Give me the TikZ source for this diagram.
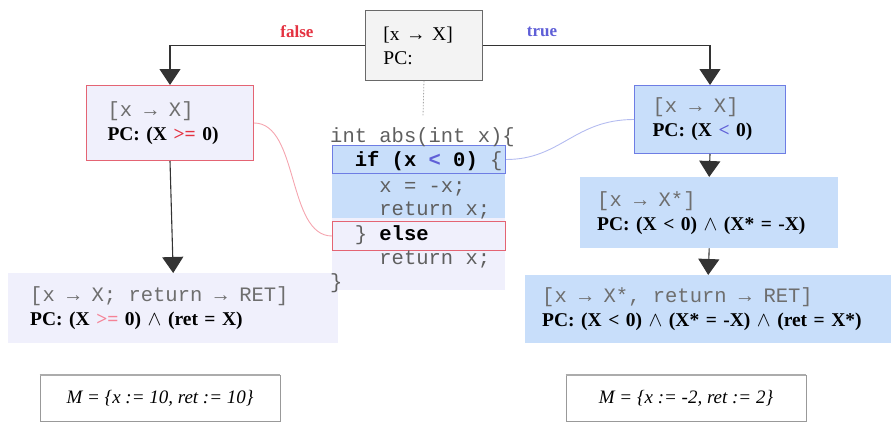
\documentclass[tikz,border=0pt]{standalone}
\usepackage{fontspec}
\setmainfont{Liberation Serif}
\setmonofont{Liberation Mono}
\usetikzlibrary{arrows.meta}

\definecolor{lav}{RGB}{240,240,252}
\definecolor{ltblue}{RGB}{200,222,250}
\definecolor{redline}{RGB}{228,100,115}
\definecolor{blueline}{RGB}{110,125,228}
\definecolor{falsered}{RGB}{228,50,65}
\definecolor{pinkop}{RGB}{245,130,150}
\definecolor{trueblue}{RGB}{95,95,215}
\definecolor{codegray}{RGB}{95,95,95}
\definecolor{mapgray}{RGB}{110,110,110}
\definecolor{topfill}{RGB}{243,243,243}
\definecolor{topdraw}{RGB}{105,105,105}
\definecolor{pinkcurve}{RGB}{245,165,175}
\definecolor{bluecurve}{RGB}{180,188,240}

\tikzset{
  state/.style={anchor=north west, inner ysep=0pt, align=left,
    font=\fontsize{19.5}{24}\selectfont},
  conn/.style={draw=black!80, line width=1.1pt,
    -{Triangle[width=21pt,length=16pt]}},
  codeline/.style={anchor=base west, inner sep=0pt,
    font=\ttfamily\fontsize{20.5}{24}\selectfont, text=codegray},
  mbox/.style={draw=gray!80, line width=0.9pt, fill=white,
    minimum width=240pt, minimum height=46pt, inner sep=0pt,
    font=\itshape\fontsize{19}{22}\selectfont},
  branch/.style={font=\bfseries\fontsize{17}{20}\selectfont},
}
% one fixed-width cell of the monospaced grid
\newcommand{\ms}{\hspace*{0.6em}}
\newcommand{\tto}{\makebox[0.6em][c]{→}}
\newcommand{\mapsline}[1]{\textcolor{mapgray}{\ttfamily\fontsize{20.5}{24}\selectfont #1}}

\begin{document}
\begin{tikzpicture}[x=1pt,y=-1pt]
  \useasboundingbox (0,0) rectangle (891,423);

  % initial state
  \node[state, draw=topdraw, fill=topfill, line width=0.9pt,
        inner xsep=18pt, text width=81pt, minimum height=70pt]
        (top) at (365,10) {[x → X]\\PC:};

  % false branch
  \node[state, draw=redline, fill=lav, line width=1pt,
        inner xsep=21pt, text width=125pt, minimum height=75pt]
        (lb1) at (86,85)
        {\mapsline{[x\ms\tto\ms X]}\\\textbf{PC: (X \textcolor{falsered}{>=} 0)}};
  \node[state, fill=lav, inner xsep=22pt, text width=286pt,
        minimum height=70pt] (lb2) at (8,273)
        {\mapsline{[x\ms\tto\ms X;\ms return\ms\tto\ms RET]}\\
         \textbf{PC: (X \textcolor{pinkop}{>=} 0) $\wedge$ (ret = X)}};

  % true branch
  \node[state, draw=blueline, fill=ltblue, line width=1pt,
        inner xsep=18pt, text width=115pt, minimum height=68pt]
        (rb1) at (634,85)
        {\mapsline{[x\ms\tto\ms X]}\\\textbf{PC: (X \textcolor{trueblue}{<} 0)}};
  \node[state, fill=ltblue, inner xsep=17pt, text width=224pt,
        minimum height=71pt] (rb2) at (580,177)
        {\mapsline{[x\ms\tto\ms X*]}\\\textbf{PC: (X < 0) $\wedge$ (X* = -X)}};
  \node[state, fill=ltblue, inner xsep=17pt, text width=332pt,
        minimum height=68pt] (rb3) at (525,275)
        {\mapsline{[x\ms\tto\ms X*,\ms return\ms\tto\ms RET]}\\
         \textbf{PC: (X < 0) $\wedge$ (X* = -X) $\wedge$ (ret = X*)}};

  % source code with highlighted regions
  \node[anchor=north west, fill=lav, minimum width=173pt,
        minimum height=145pt, inner sep=0pt] (codebg) at (332,145) {};
  \node[anchor=north west, fill=ltblue, minimum width=173pt,
        minimum height=73pt, inner sep=0pt] (thenbg) at (332,145) {};
  \node[anchor=north west, draw=blueline, line width=1pt,
        minimum width=173pt, minimum height=28pt, inner sep=0pt]
        (ifbox) at (332,145) {};
  \node[anchor=north west, draw=redline, line width=1pt, fill=lav,
        minimum width=173pt, minimum height=29pt, inner sep=0pt]
        (elsebox) at (332,221) {};

  \node[codeline] (c1) at (330,142) {int abs(int x)\{};
  \node[codeline] (c2) at (354.6,166)
        {\textcolor{black}{\textbf{if}} \textcolor{black}{\textbf{(x
         \textcolor{trueblue}{<} 0)}} \{};
  \node[codeline] (c3) at (379.2,192) {x = -x;};
  \node[codeline] (c4) at (379.2,215) {return x;};
  \node[codeline] (c5) at (354.6,240) {\} \textcolor{black}{\textbf{else}}};
  \node[codeline] (c6) at (379.2,264) {return x;};
  \node[codeline] (c7) at (330,288) {\}};

  % links from states to the code
  \coordinate (dotend) at (423,116);
  \draw[gray!70, line width=0.8pt, dash pattern=on 1.5pt off 1.5pt]
        (top.south) -- (dotend);
  \draw[pinkcurve, line width=0.9pt]
        (lb1.east) .. controls +(45,0) and +(-45,0) .. (elsebox.west);
  \draw[bluecurve, line width=0.9pt]
        (rb1.west) .. controls +(-60,0) and +(55,0) .. (ifbox.east);

  % branch connectors
  \draw[conn] (top.west) -| (lb1.north);
  \draw[conn] (top.east) -| (rb1.north);
  \draw[conn] (lb1.south) -- (lb2.north);
  \draw[conn] (rb1.south) -- (rb2.north);
  \draw[conn] (rb2.south) -- (rb3.north);

  \node[branch, text=falsered] (lfalse) at (297,32) {false};
  \node[branch, text=trueblue] (ltrue) at (542,32) {true};

  % concrete models
  \node[mbox] (m1) at (160,398.5) {M = \{x := 10, ret := 10\}};
  \node[mbox] (m2) at (686,398.5) {M = \{x := -2, ret := 2\}};
  \draw[gray!65, line width=2.5pt] (m1.north west) -- (m1.north east);
  \draw[gray!65, line width=2.5pt] (m2.north west) -- (m2.north east);
\end{tikzpicture}
\end{document}
